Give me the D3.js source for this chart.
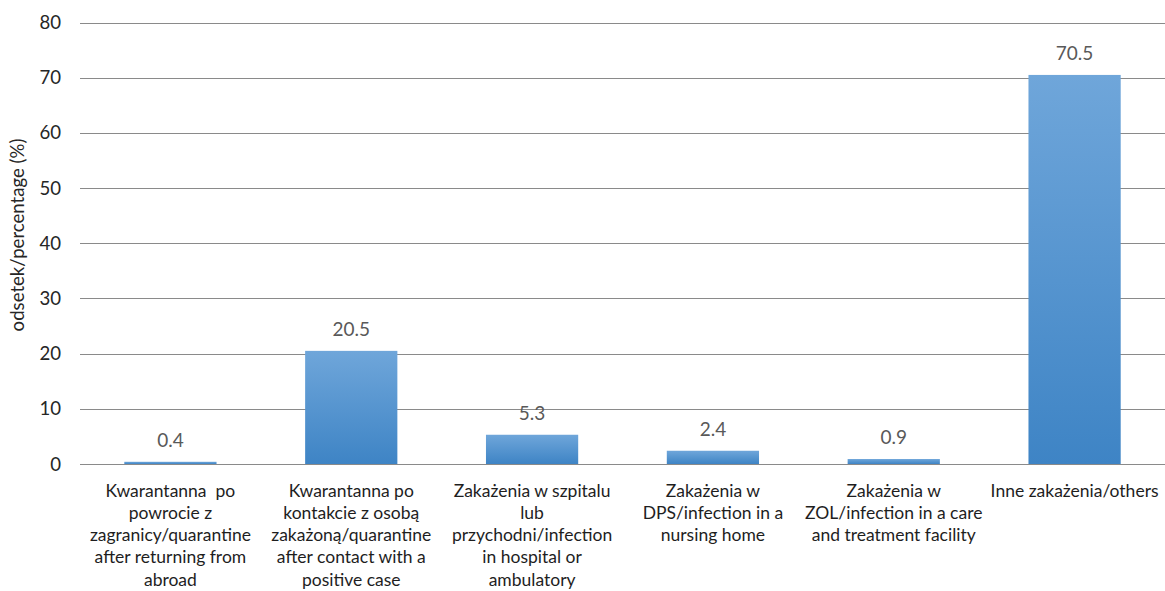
<!DOCTYPE html>
<html>
<head>
<meta charset="utf-8">
<script src="https://cdn.jsdelivr.net/npm/d3@7"></script>
<style>
  body { margin: 0; background: #fff; }
  svg { display: block; font-family: Lato, "Open Sans", sans-serif; }
</style>
</head>
<body>
<svg id="chart" width="1165" height="591"></svg>
<script>
const categories = [
  ["Kwarantanna  po", "powrocie z", "zagranicy/quarantine", "after returning from", "abroad"],
  ["Kwarantanna po", "kontakcie z osobą", "zakażoną/quarantine", "after contact with a", "positive case"],
  ["Zakażenia w szpitalu", "lub", "przychodni/infection", "in hospital or", "ambulatory"],
  ["Zakażenia w", "DPS/infection in a", "nursing home"],
  ["Zakażenia w", "ZOL/infection in a care", "and treatment facility"],
  ["Inne zakażenia/others"]
];
const values = [0.4, 20.5, 5.3, 2.4, 0.9, 70.5];
const valueLabels = ["0.4", "20.5", "5.3", "2.4", "0.9", "70.5"];
const yTicks = [0, 10, 20, 30, 40, 50, 60, 70, 80];
const yTitle = "odsetek/percentage (%)";

const svg = d3.select("#chart");
const margin = {left: 80, right: 0, top: 22.5, bottom: 127};
const W = 1165, H = 591;

const x = d3.scaleBand().domain(d3.range(categories.length))
  .range([margin.left, W - margin.right]).paddingInner(0.49).paddingOuter(0.245);
const y = d3.scaleLinear().domain([0, 80]).range([H - margin.bottom, margin.top]);

const defs = svg.append("defs");
const grad = defs.append("linearGradient").attr("id", "barGrad")
  .attr("x1", 0).attr("y1", 0).attr("x2", 0).attr("y2", 1);
grad.append("stop").attr("offset", "0%").attr("stop-color", "#6fa6da");
grad.append("stop").attr("offset", "100%").attr("stop-color", "#3e84c5");

// gridlines
svg.append("g").selectAll("line").data(yTicks).join("line")
  .attr("x1", margin.left).attr("x2", W)
  .attr("y1", d => Math.round(y(d)) + 0.5).attr("y2", d => Math.round(y(d)) + 0.5)
  .attr("stroke", "#8a8a8a").attr("stroke-width", 1.2);

// y tick labels
svg.append("g").selectAll("text").data(yTicks).join("text")
  .attr("x", 61).attr("y", d => y(d)).attr("dy", "0.35em")
  .attr("text-anchor", "end").attr("font-size", 18.6).attr("fill", "#262626")
  .text(d => d);

// y title
svg.append("text")
  .attr("transform", `translate(24, 235) rotate(-90)`)
  .attr("text-anchor", "middle").attr("font-size", 18.6).attr("fill", "#262626")
  .text(yTitle);

// bars
svg.append("g").selectAll("rect").data(values).join("rect")
  .attr("x", (d, i) => x(i)).attr("width", x.bandwidth())
  .attr("y", d => y(d)).attr("height", d => y(0) - y(d))
  .attr("fill", "url(#barGrad)");

// value labels
svg.append("g").selectAll("text").data(values).join("text")
  .attr("x", (d, i) => x(i) + x.bandwidth() / 2)
  .attr("y", d => y(d) - 15)
  .attr("text-anchor", "middle").attr("font-size", 19).attr("fill", "#595959")
  .text((d, i) => valueLabels[i]);

// category labels
const cat = svg.append("g").selectAll("text").data(categories).join("text")
  .attr("x", (d, i) => x(i) + x.bandwidth() / 2)
  .attr("y", y(0) + 32.5)
  .attr("text-anchor", "middle").attr("font-size", 17.5).attr("fill", "#1e1e1e")
  .style("white-space", "pre");
cat.selectAll("tspan").data(d => d).join("tspan")
  .attr("x", function() { return d3.select(this.parentNode).attr("x"); })
  .attr("dy", (d, j) => j === 0 ? 0 : 22.3)
  .text(d => d);
</script>
</body>
</html>
